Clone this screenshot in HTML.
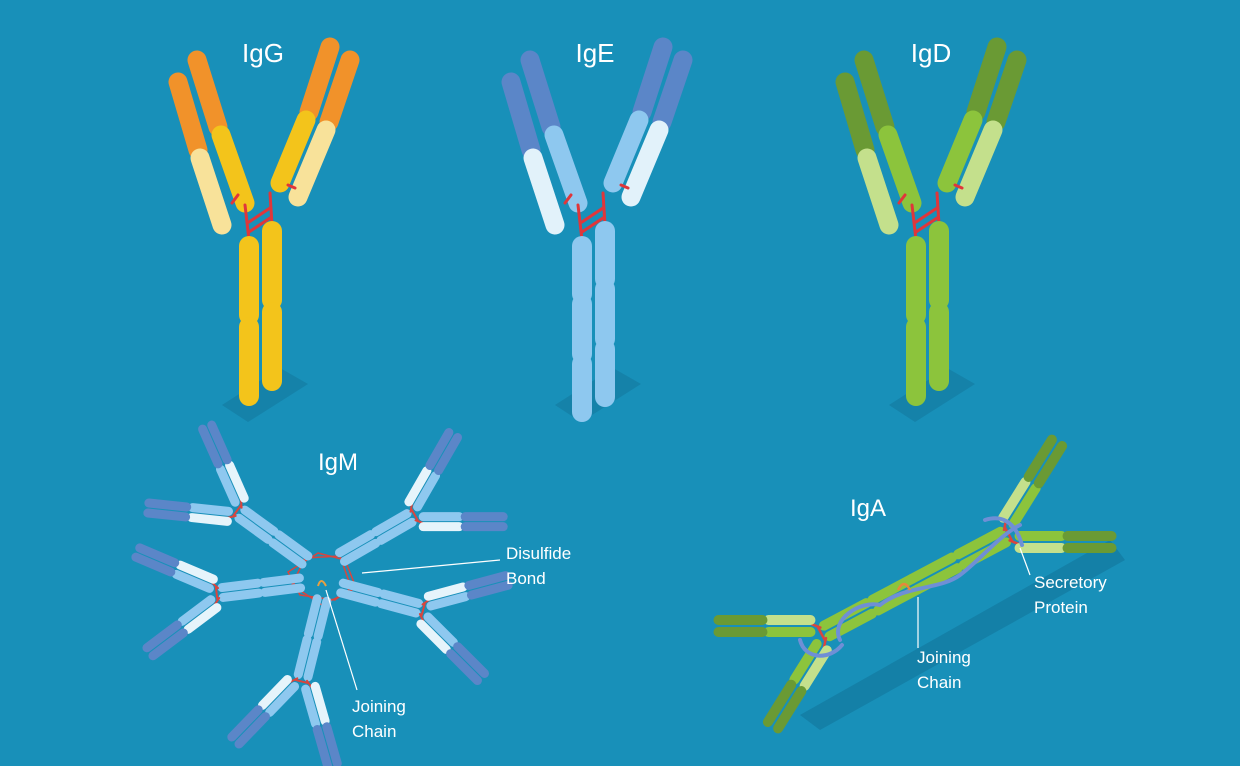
<!DOCTYPE html>
<html><head><meta charset="utf-8"><style>
html,body{margin:0;padding:0;background:#1890b9;}
svg{display:block}
text{font-family:"Liberation Sans",sans-serif;fill:#fff}
</style></head><body>
<svg width="1240" height="766" viewBox="0 0 1240 766" xmlns="http://www.w3.org/2000/svg">
<rect width="1240" height="766" fill="#1890b9"/>
<defs>
 <g id="arms" stroke-linecap="round" fill="none">
  <polygon points="222,405 280,368 308,384 248,422" fill="#147ca3" opacity="0.7" stroke="none"/>
  <line x1="178" y1="82" x2="198" y2="150" stroke="var(--d)" stroke-width="19"/>
  <line x1="200" y1="158" x2="222" y2="225" stroke="var(--l)" stroke-width="19"/>
  <line x1="197" y1="60" x2="218" y2="127" stroke="var(--d)" stroke-width="19"/>
  <line x1="221" y1="135" x2="245" y2="203" stroke="var(--m)" stroke-width="19"/>
  <line x1="330" y1="47" x2="309" y2="112" stroke="var(--d)" stroke-width="19"/>
  <line x1="306" y1="120" x2="280" y2="183" stroke="var(--m)" stroke-width="19"/>
  <line x1="350" y1="60" x2="329" y2="122" stroke="var(--d)" stroke-width="19"/>
  <line x1="326" y1="130" x2="298" y2="197" stroke="var(--l)" stroke-width="19"/>
  <g stroke="#e0363a" stroke-width="3">
   <line x1="249" y1="240" x2="245" y2="205"/><line x1="272" y1="225" x2="270" y2="193"/>
   <line x1="249" y1="222" x2="270" y2="208"/><line x1="249" y1="232" x2="270" y2="218"/>
   <line x1="232" y1="203" x2="238" y2="195"/><line x1="288" y1="185" x2="295" y2="188"/>
  </g>
 </g>
 <g id="mu" stroke-linecap="round" fill="none" stroke-width="9">
  <line x1="0" y1="-5" x2="36" y2="-5" stroke="#8ec8ef"/><line x1="42" y1="-5" x2="78" y2="-5" stroke="#8ec8ef"/>
  <line x1="0" y1="5" x2="36" y2="5" stroke="#8ec8ef"/><line x1="42" y1="5" x2="78" y2="5" stroke="#8ec8ef"/>
  <g stroke="#d9453e" stroke-width="2"><line x1="82" y1="-5" x2="88" y2="-12"/><line x1="82" y1="5" x2="88" y2="12"/><line x1="84" y1="-6" x2="84" y2="6"/></g>
  <g transform="translate(88,-10) rotate(-30)">
   <line x1="0" y1="-5" x2="36" y2="-5" stroke="#e6f4fb"/><line x1="42" y1="-5" x2="80" y2="-5" stroke="#5b86c8"/>
   <line x1="0" y1="5" x2="36" y2="5" stroke="#8ec8ef"/><line x1="42" y1="5" x2="80" y2="5" stroke="#5b86c8"/>
  </g>
  <g transform="translate(88,10) rotate(30)">
   <line x1="0" y1="-5" x2="36" y2="-5" stroke="#8ec8ef"/><line x1="42" y1="-5" x2="80" y2="-5" stroke="#5b86c8"/>
   <line x1="0" y1="5" x2="36" y2="5" stroke="#e6f4fb"/><line x1="42" y1="5" x2="80" y2="5" stroke="#5b86c8"/>
  </g>
 </g>
 <g id="au" stroke-linecap="round" fill="none" stroke-width="10">
  <line x1="0" y1="-6" x2="45" y2="-6" stroke="#8cc43c"/><line x1="52" y1="-6" x2="100" y2="-6" stroke="#8cc43c"/>
  <line x1="0" y1="6" x2="45" y2="6" stroke="#8cc43c"/><line x1="52" y1="6" x2="100" y2="6" stroke="#8cc43c"/>
  <g stroke="#d9453e" stroke-width="2.5"><line x1="104" y1="-6" x2="110" y2="-13"/><line x1="104" y1="6" x2="110" y2="13"/><line x1="106" y1="-7" x2="106" y2="7"/></g>
  <g transform="translate(112,-12) rotate(-30)">
   <line x1="0" y1="-6" x2="42" y2="-6" stroke="#c4e08c"/><line x1="48" y1="-6" x2="92" y2="-6" stroke="#6a9a34"/>
   <line x1="0" y1="6" x2="42" y2="6" stroke="#8cc43c"/><line x1="48" y1="6" x2="92" y2="6" stroke="#6a9a34"/>
  </g>
  <g transform="translate(112,12) rotate(28)">
   <line x1="0" y1="-6" x2="42" y2="-6" stroke="#8cc43c"/><line x1="48" y1="-6" x2="92" y2="-6" stroke="#6a9a34"/>
   <line x1="0" y1="6" x2="42" y2="6" stroke="#c4e08c"/><line x1="48" y1="6" x2="92" y2="6" stroke="#6a9a34"/>
  </g>
 </g>
</defs>

<!-- IgG -->
<use href="#arms" style="--d:#f1922a;--m:#f3c41b;--l:#f8e29a"/>
<g stroke-linecap="round" stroke-width="20" stroke="#f3c41b">
 <line x1="249" y1="246" x2="249" y2="315"/><line x1="249" y1="327" x2="249" y2="396"/>
 <line x1="272" y1="231" x2="272" y2="300"/><line x1="272" y1="312" x2="272" y2="381"/>
</g>
<!-- IgE -->
<g transform="translate(333,0)">
<use href="#arms" style="--d:#5b86c8;--m:#8ec8ef;--l:#e2f2fa"/>
<g stroke-linecap="round" stroke-width="20" stroke="#8ec8ef">
 <line x1="249" y1="246" x2="249" y2="294"/><line x1="249" y1="304" x2="249" y2="354"/><line x1="249" y1="364" x2="249" y2="412"/>
 <line x1="272" y1="231" x2="272" y2="279"/><line x1="272" y1="289" x2="272" y2="339"/><line x1="272" y1="349" x2="272" y2="397"/>
</g></g>
<!-- IgD -->
<g transform="translate(667,0)">
<use href="#arms" style="--d:#6a9a34;--m:#8cc43c;--l:#c4e08c"/>
<g stroke-linecap="round" stroke-width="20" stroke="#8cc43c">
 <line x1="249" y1="246" x2="249" y2="315"/><line x1="249" y1="327" x2="249" y2="396"/>
 <line x1="272" y1="231" x2="272" y2="300"/><line x1="272" y1="312" x2="272" y2="381"/>
</g></g>

<text x="263" y="62" font-size="26" text-anchor="middle">IgG</text>
<text x="595" y="62" font-size="26" text-anchor="middle">IgE</text>
<text x="931" y="62" font-size="26" text-anchor="middle">IgD</text>

<!-- IgM -->
<g stroke="#d9453e" stroke-width="1.5" fill="none">
 <polygon points="318,553 345,560 355,585 335,600 300,595 288,572"/>
 <polygon points="305,558 340,556 352,590 322,605 292,585"/>
</g>
<use href="#mu" transform="translate(305,560) rotate(216)"/>
<use href="#mu" transform="translate(342,557) rotate(-30)"/>
<use href="#mu" transform="translate(300,583) rotate(173)"/>
<use href="#mu" transform="translate(342,588) rotate(15)"/>
<use href="#mu" transform="translate(322,600) rotate(104)"/>
<path d="M318,586 q3,-10 8,0" stroke="#e8a040" stroke-width="2" fill="none"/>
<text x="338" y="470" font-size="24" text-anchor="middle">IgM</text>
<line x1="500" y1="560" x2="362" y2="573" stroke="#fff" stroke-width="1.2"/>
<text x="506" y="559" font-size="17">Disulfide</text>
<text x="506" y="584" font-size="17">Bond</text>
<line x1="357" y1="690" x2="326" y2="590" stroke="#fff" stroke-width="1.2"/>
<text x="352" y="712" font-size="17">Joining</text>
<text x="352" y="737" font-size="17">Chain</text>

<!-- IgA -->
<polygon points="800,715 1110,540 1125,560 820,730" fill="#147ca3" opacity="0.8"/>
<use href="#au" transform="translate(915,584) rotate(-28)"/>
<use href="#au" transform="translate(915,584) rotate(152)"/>
<path d="M840,640 C830,620 860,600 880,605 C905,585 940,590 960,575 C980,560 1000,535 1020,525 M985,520 C1000,515 1015,520 1022,545 M800,640 c5,20 30,20 42,5" stroke="#6f8fd6" stroke-width="4" fill="none" stroke-linecap="round"/>
<path d="M898,590 q6,-12 12,0" stroke="#e8883a" stroke-width="2.5" fill="none"/>
<text x="868" y="516" font-size="24" text-anchor="middle">IgA</text>
<line x1="918" y1="648" x2="918" y2="597" stroke="#fff" stroke-width="1.2"/>
<text x="917" y="663" font-size="17">Joining</text>
<text x="917" y="688" font-size="17">Chain</text>
<line x1="1030" y1="575" x2="1020" y2="548" stroke="#fff" stroke-width="1.2"/>
<text x="1034" y="588" font-size="17">Secretory</text>
<text x="1034" y="613" font-size="17">Protein</text>
</svg>
</body></html>
